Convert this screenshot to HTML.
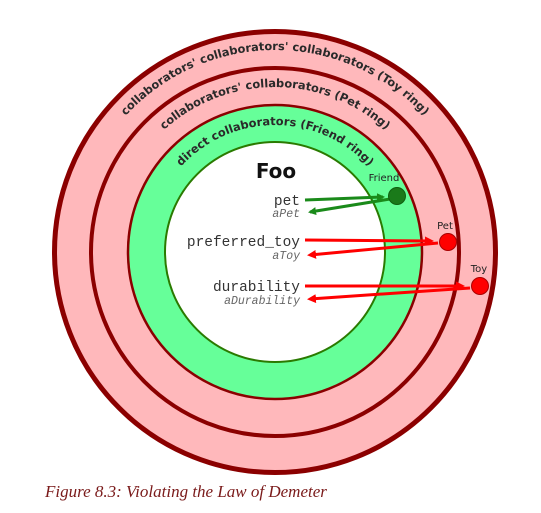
<!DOCTYPE html>
<html><head><style>
body{margin:0;background:#fff;width:541px;height:513px;overflow:hidden}
svg{display:block}
</style></head><body>
<svg width="541" height="513" viewBox="0 0 541 513" xmlns="http://www.w3.org/2000/svg">
<defs>
<path id="a1" d="M 73 252 A 202 202 0 0 1 477 252"/>
<path id="a2" d="M 110 252 A 165 165 0 0 1 440 252"/>
<path id="a3" d="M 148 252 A 127 127 0 0 1 402 252"/>
<marker id="mg" markerWidth="8" markerHeight="8" refX="6" refY="4" orient="auto" markerUnits="userSpaceOnUse"><path d="M0,0 L8,4 L0,8 z" fill="#1a8a1a"/></marker>
<marker id="mr" markerWidth="9" markerHeight="9" refX="6" refY="4.5" orient="auto" markerUnits="userSpaceOnUse"><path d="M0,0 L9,4.5 L0,9 z" fill="#f00"/></marker>
</defs>
<circle cx="275" cy="252" r="220.5" fill="#ffb8bb" stroke="#8b0000" stroke-width="5"/>
<circle cx="275" cy="252" r="184" fill="#ffb8bb" stroke="#8b0000" stroke-width="4"/>
<circle cx="275" cy="252" r="147" fill="#66ff99" stroke="#8b0000" stroke-width="2.5"/>
<circle cx="275" cy="252" r="110" fill="#fff" stroke="#2a7a00" stroke-width="2"/>
<g font-family="DejaVu Sans, sans-serif" font-size="11.4" font-weight="bold" fill="#2a2a2a" text-anchor="middle">
<text><textPath href="#a1" startOffset="50%">collaborators' collaborators' collaborators (Toy ring)</textPath></text>
<text><textPath href="#a2" startOffset="50%">collaborators' collaborators (Pet ring)</textPath></text>
<text><textPath href="#a3" startOffset="50%">direct collaborators (Friend ring)</textPath></text>
</g>
<text x="276" y="178" font-family="DejaVu Sans, sans-serif" font-weight="bold" font-size="20" text-anchor="middle" fill="#111">Foo</text>
<g font-family="Liberation Mono, monospace" text-anchor="end">
<text x="300" y="205" font-size="14.5" fill="#333">pet</text>
<text x="300" y="217" font-size="11.5" font-style="italic" fill="#666">aPet</text>
<text x="300" y="246" font-size="14.5" fill="#333">preferred_toy</text>
<text x="300" y="259" font-size="11.5" font-style="italic" fill="#666">aToy</text>
<text x="300" y="291" font-size="14.5" fill="#333">durability</text>
<text x="300" y="304" font-size="11.5" font-style="italic" fill="#666">aDurability</text>
</g>
<g font-family="DejaVu Sans, sans-serif" font-size="10" fill="#222" text-anchor="middle">
<text x="384" y="181">Friend</text>
<text x="445" y="229">Pet</text>
<text x="479" y="272">Toy</text>
</g>
<g stroke="#1a8a1a" stroke-width="3" fill="none">
<line x1="305" y1="200" x2="383" y2="197" marker-end="url(#mg)"/>
<line x1="390" y1="199" x2="310" y2="212" marker-end="url(#mg)"/>
</g>
<g stroke="#f00" stroke-width="3" fill="none">
<line x1="305" y1="240" x2="431" y2="241" marker-end="url(#mr)"/>
<line x1="438" y1="243" x2="310" y2="255" marker-end="url(#mr)"/>
<line x1="305" y1="286" x2="462" y2="286" marker-end="url(#mr)"/>
<line x1="470" y1="288" x2="310" y2="299" marker-end="url(#mr)"/>
</g>
<circle cx="397" cy="196" r="8.5" fill="#1a7a1a" stroke="#0f5f0f" stroke-width="1"/>
<circle cx="448" cy="242" r="8.5" fill="#f00" stroke="#a00" stroke-width="1"/>
<circle cx="480" cy="286" r="8.5" fill="#f00" stroke="#a00" stroke-width="1"/>
<text x="45" y="497" font-family="Liberation Serif, serif" font-style="italic" font-size="17" fill="#7a1a1a">Figure 8.3: Violating the Law of Demeter</text>
</svg>
</body></html>
